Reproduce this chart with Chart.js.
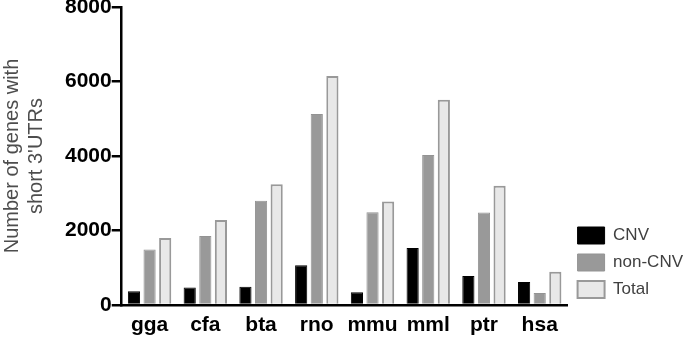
<!DOCTYPE html>
<html>
<head>
<meta charset="utf-8">
<script src="https://cdn.jsdelivr.net/npm/chart.js@4"></script>
<style>
  html, body { margin: 0; padding: 0; background: #fff; }
  #wrap { width: 700px; height: 338px; position: relative; }
</style>
</head>
<body>
<div id="wrap"><canvas id="chart"></canvas></div>
<script>
// species on the x axis
const species = ['gga', 'cfa', 'bta', 'rno', 'mmu', 'mml', 'ptr', 'hsa'];

// number of genes with short 3'UTRs
const cnvCounts = [370, 470, 490, 1070, 340, 1530, 780, 620];
const nonCnvCounts = [1490, 1850, 2800, 5130, 2490, 4030, 2480, 320];
const totalCounts = [1800, 2280, 3240, 6150, 2780, 5510, 3200, 890];

const yTicks = [0, 2000, 4000, 6000, 8000];

const FONT = "'Liberation Sans', Arial, Helvetica, sans-serif";

// keep the right-hand legend sitting just above the x axis instead of the canvas bottom
const legendToAxis = {
  id: 'legendToAxis',
  afterLayout(chart) {
    if (chart.legend) {
      chart.legend.bottom = chart.chartArea.bottom + 3;
    }
  },
};

const ctx = document.getElementById('chart').getContext('2d');

new Chart(ctx, {
  type: 'bar',
  data: {
    labels: species,
    datasets: [
      {
        label: 'CNV',
        data: cnvCounts,
        backgroundColor: '#000000',
        borderColor: '#000000',
        borderWidth: 1,
      },
      {
        label: 'non-CNV',
        data: nonCnvCounts,
        backgroundColor: '#999999',
        borderColor: '#939393',
        borderWidth: 1,
      },
      {
        label: 'Total',
        data: totalCounts,
        backgroundColor: '#e8e8e8',
        borderColor: '#999999',
        borderWidth: 2,
      },
    ],
  },
  options: {
    responsive: true,
    maintainAspectRatio: false,
    animation: false,
    categoryPercentage: 0.84,
    barPercentage: 0.78,
    layout: {
      padding: { top: 7, right: 7, bottom: 0, left: 0 },
    },
    plugins: {
      tooltip: { enabled: false },
      legend: {
        position: 'right',
        align: 'end',
        labels: {
          boxWidth: 27,
          boxHeight: 17,
          padding: 10,
          color: '#404040',
          font: { family: FONT, size: 17 },
        },
      },
    },
    scales: {
      x: {
        grid: { display: false, drawTicks: false, tickLength: 0 },
        border: { color: '#000000', width: 2.5 },
        afterFit: (axis) => {
          axis.height = 33;
        },
        ticks: {
          color: '#000000',
          padding: 8,
          autoSkip: false,
          maxRotation: 0,
          minRotation: 0,
          font: { family: FONT, size: 21, weight: 'bold' },
        },
      },
      y: {
        min: 0,
        max: 8000,
        afterBuildTicks: (axis) => {
          axis.ticks = yTicks.map((v) => ({ value: v }));
        },
        grid: {
          drawOnChartArea: false,
          drawTicks: true,
          tickLength: 10,
          color: '#000000',
          lineWidth: 2.5,
        },
        border: { color: '#000000', width: 2.5 },
        ticks: {
          color: '#000000',
          padding: 0,
          callback: (value) => String(value),
          font: { family: FONT, size: 21, weight: 'bold', lineHeight: 0.6 },
        },
        title: {
          display: true,
          text: ['Number of genes with', "short 3'UTRs"],
          color: '#4d4d4d',
          padding: { top: 0, bottom: 17 },
          font: { family: FONT, size: 20, lineHeight: 1.2 },
        },
      },
    },
  },
  plugins: [legendToAxis],
});
</script>
</body>
</html>
